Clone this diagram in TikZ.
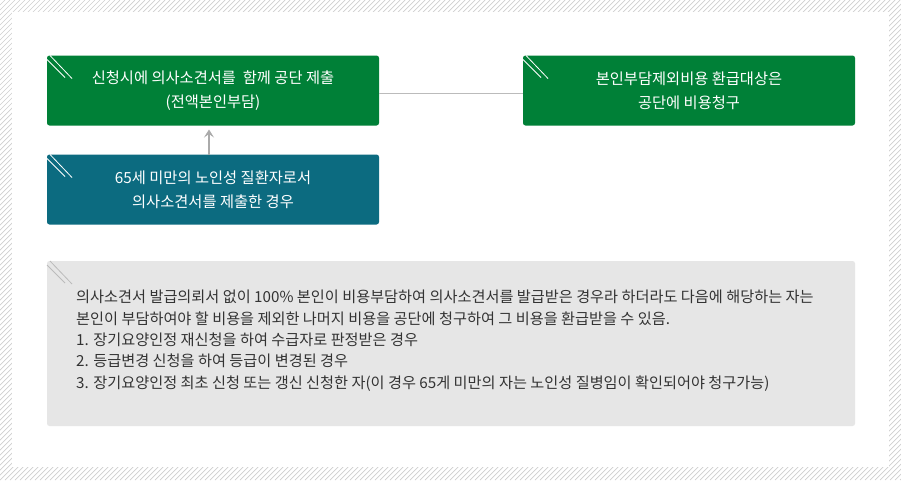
\documentclass[tikz,border=0pt]{standalone}
\usepackage{fontspec}
\setmainfont{Noto Sans CJK KR}
\usetikzlibrary{arrows.meta}
\definecolor{bgreen}{HTML}{008037}
\definecolor{bteal}{HTML}{0C6B80}
\definecolor{bgray}{HTML}{E6E6E6}
\definecolor{hatchc}{HTML}{CFCFCF}
\definecolor{linec}{HTML}{BBBBBB}
\definecolor{arrowc}{HTML}{AAAAAA}
\definecolor{textc}{HTML}{333333}
\begin{document}
\begin{tikzpicture}[x=1pt,y=-1pt,
  hatch/.style={draw=hatchc,line width=0.7pt},
  flowbox/.style={rounded corners=2.5pt,minimum width=332pt,minimum height=70pt,
    inner sep=0pt,outer sep=0pt,text=white,align=center,
    font=\fontsize{15.3pt}{24pt}\selectfont},
  notebox/.style={fill=bgray,rounded corners=2.5pt,minimum width=808pt,minimum height=165pt,
    inner sep=0pt,outer sep=0pt},
  corner/.style={line width=0.8pt},
  notetext/.style={anchor=base west,inner sep=0pt,text=textc,font=\fontsize{15.2pt}{17pt}\selectfont},
  conn/.style={draw=linec,line width=1pt},
  uparrow/.style={draw=arrowc,line width=1.5pt,-{Stealth[length=8pt,width=10pt,inset=3.5pt]}}
]
\useasboundingbox (0,0) rectangle (901,480);
\fill[white] (0,0) rectangle (901,480);
\begin{scope}
  \clip (0,0) rectangle (901,480);
  \foreach \c in {0,5,...,1385} \draw[hatch] (\c,0) -- (\c-480,480);
\end{scope}
\fill[white] (12,12) rectangle (889,467);

% boxes
\node[flowbox,fill=bgreen] (b1) at (213,90.5) {신청시에 의사소견서를~ 함께 공단 제출\\(전액본인부담)};
\node[flowbox,fill=bteal] (b2) at (213,189.5) {65세 미만의 노인성 질환자로서\\의사소견서를 제출한 경우};
\node[flowbox,fill=bgreen] (b3) at (689,90.5) {본인부담제외비용 환급대상은\\공단에 비용청구};
\node[notebox] (n1) at (451,343.5) {};

% corner strokes
\foreach \b/\c in {b1/white,b2/white,b3/white,n1/linec}{
  \draw[corner,draw=\c] ([shift={(3,0)}]\b.north west) -- ++(22,23);
  \draw[corner,draw=\c] ([shift={(0,4)}]\b.north west) -- ++(18,18);
}

% connectors
\draw[conn] ([yshift=-3pt]b1.east) -- ([yshift=-3pt]b3.west);
\draw[uparrow,shorten >=4pt] ([xshift=-4pt]b2.north) -- ([xshift=-4pt]b1.south);

% note text
\node[notetext] (t1) at (76,302.7) {의사소견서 발급의뢰서 없이 100\% 본인이 비용부담하여 의사소견서를 발급받은 경우라 하더라도 다음에 해당하는 자는};
\node[notetext] (t2) at (76,324.1) {본인이 부담하여야 할 비용을 제외한 나머지 비용을 공단에 청구하여 그 비용을 환급받을 수 있음.};
\node[notetext] (t3) at (76,345.5) {1. 장기요양인정 재신청을 하여 수급자로 판정받은 경우};
\node[notetext] (t4) at (76,366.9) {2. 등급변경 신청을 하여 등급이 변경된 경우};
\node[notetext] (t5) at (76,388.3) {3. 장기요양인정 최초 신청 또는 갱신 신청한 자(이 경우 65게 미만의 자는 노인성 질병임이 확인되어야 청구가능)};
\end{tikzpicture}
\end{document}
